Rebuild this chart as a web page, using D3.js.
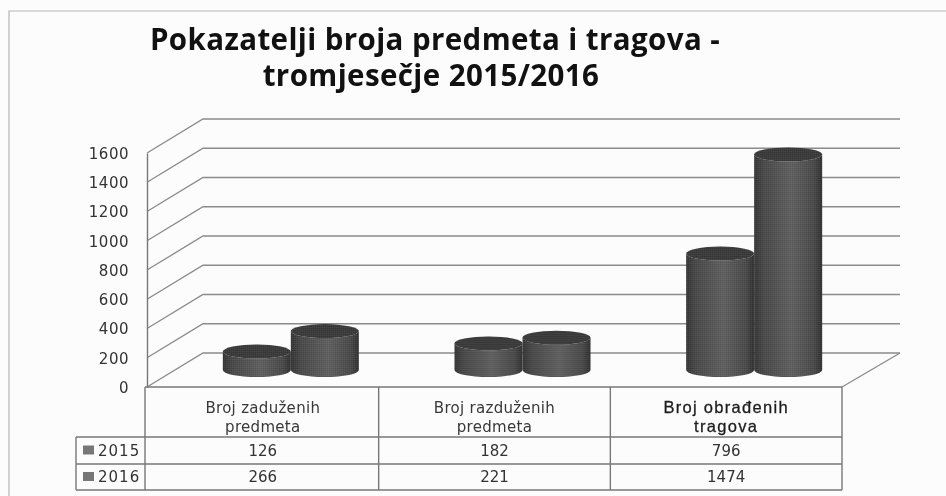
<!DOCTYPE html>
<html>
<head>
<meta charset="utf-8">
<script src="https://cdn.jsdelivr.net/npm/d3@7"></script>
<style>
  html, body { margin: 0; padding: 0; background: #fcfcfc; }
  svg { display: block; filter: blur(0.35px); }
  .num { font-family: "DejaVu Sans", sans-serif; font-size: 15px; fill: #333; }
  .grid { stroke: #8a8a8a; stroke-width: 1.3; fill: none; }
  .cell { stroke: #777; stroke-width: 1.4; fill: none; }
</style>
</head>
<body>
<svg id="chart" width="946" height="496"></svg>
<script>
const categories = [["Broj zaduženih", "predmeta"], ["Broj razduženih", "predmeta"], ["Broj obrađenih", "tragova"]];
const years = ["2015", "2016"];
const values2015 = [126, 182, 796];
const values2016 = [266, 221, 1474];
const yTicks = [0, 200, 400, 600, 800, 1000, 1200, 1400, 1600];
const titleLines = ["Pokazatelji broja predmeta i tragova -", "tromjesečje 2015/2016"];

const svg = d3.select("#chart");
const plotLeft = 147, plotRight = 842, plotTop = 153, plotBottom = 387;
// how far the back wall sits behind the front plane
const depthX = 56, depthY = 34;

const y = d3.scaleLinear().domain([0, 1600]).range([plotBottom, plotTop]);
const x = d3.scaleBand().domain([0, 1, 2]).range([plotLeft, plotRight]);
const xYear = d3.scaleBand().domain(years).range([-68, 68]);

// gradient + halftone for the cylinders
const defs = svg.append("defs");
const grad = defs.append("linearGradient").attr("id", "body");
[[0, "#383838"], [0.15, "#4c4c4c"], [0.55, "#626262"], [0.88, "#4c4c4c"], [1, "#333"]].forEach(s => {
  grad.append("stop").attr("offset", s[0]).attr("stop-color", s[1]);
});
const dots = defs.append("pattern").attr("id", "dots")
  .attr("width", 2).attr("height", 2).attr("patternUnits", "userSpaceOnUse");
dots.append("rect").attr("width", 1).attr("height", 1).attr("fill", "#000").attr("opacity", 0.15);
dots.append("rect").attr("x", 1).attr("y", 1).attr("width", 1).attr("height", 1).attr("fill", "#fff").attr("opacity", 0.05);

// outer frame, runs off the right and bottom edge
svg.append("path").attr("d", "M946,11H9V496").attr("fill", "none").attr("stroke", "#b5b5b5").attr("stroke-width", 1.2);

// title
svg.append("g").selectAll("text").data(titleLines).join("text")
  .attr("x", (d, i) => i ? 431 : 435)
  .attr("y", (d, i) => i ? 86 : 50)
  .attr("text-anchor", "middle")
  .attr("font-family", "Open Sans, sans-serif")
  .attr("font-weight", 700)
  .attr("font-size", 29.5)
  .attr("letter-spacing", 0.4)
  .attr("fill", "#111")
  .text(d => d);

// walls: diagonal from the front plane, then along the back wall
svg.append("g").selectAll("path").data(yTicks).join("path")
  .attr("class", "grid")
  .attr("d", d => `M${plotLeft},${y(d)}L${plotLeft + depthX},${y(d) - depthY}H${plotRight + depthX + 2}`);
svg.append("path").attr("class", "grid")
  .attr("d", `M${plotRight},${plotBottom}L${plotRight + depthX + 2},${plotBottom - depthY}`);

// y axis
const yAxis = svg.append("g").attr("transform", `translate(${plotLeft},0)`)
  .call(d3.axisLeft(y).tickValues(yTicks).tickFormat(d3.format("d")).tickSize(0).tickPadding(18));
yAxis.select(".domain").attr("stroke", "#777").attr("stroke-width", 1.4);
yAxis.selectAll("text").attr("class", "num").attr("letter-spacing", 0.5).attr("dy", "0.36em");

// cylinders
const rx = xYear.bandwidth() / 2, ry = 7;
const floorY = v => y(v) - depthY / 2;
const series = [values2015, values2016];
series.forEach((vals, s) => {
  const g = svg.append("g").selectAll("g").data(vals).join("g")
    .attr("transform", (d, i) => `translate(${x(i) + x.bandwidth() / 2 + depthX / 2 + xYear(years[s]) + rx},0)`);
  const bodyPath = d => `M${-rx},${floorY(d)}V${floorY(0)}A${rx},${ry} 0 0 0 ${rx},${floorY(0)}V${floorY(d)}A${rx},${ry} 0 0 1 ${-rx},${floorY(d)}Z`;
  g.append("path").attr("d", bodyPath).attr("fill", "url(#body)");
  g.append("path").attr("d", bodyPath).attr("fill", "url(#dots)");
  g.append("ellipse").attr("cy", d => floorY(d)).attr("rx", rx).attr("ry", ry).attr("fill", "#3c3c3c");
  g.append("ellipse").attr("cy", d => floorY(d)).attr("rx", rx).attr("ry", ry).attr("fill", "url(#dots)");
});

// data table
const rowY = [plotBottom + 50, plotBottom + 77, plotBottom + 103];
const legendLeft = 76, tableLeft = 145;
const table = svg.append("g");
table.append("path").attr("class", "cell").attr("d", `M${tableLeft},${plotBottom}H${plotRight}`);
table.selectAll(".rowline").data(rowY).join("path").attr("class", "cell rowline")
  .attr("d", d => `M${legendLeft},${d}H${plotRight}`);
table.selectAll(".colline").data(d3.range(1, 4)).join("path").attr("class", "cell colline")
  .attr("d", d => `M${x.step() * d + plotLeft},${plotBottom}V${rowY[2]}`);
table.append("path").attr("class", "cell").attr("d", `M${tableLeft},${plotBottom}V${rowY[2]}M${legendLeft},${rowY[0]}V${rowY[2]}`);

categories.forEach((lines, i) => {
  table.selectAll(".cat" + i).data(lines).join("text")
    .attr("class", "cat" + i)
    .attr("x", x(i) + x.bandwidth() / 2)
    .attr("y", (d, k) => plotBottom + 26 + k * 19)
    .attr("text-anchor", "middle")
    .attr("font-family", i === 2 ? "Liberation Sans, sans-serif" : "DejaVu Sans, sans-serif")
    .attr("font-size", i === 2 ? 16.5 : 15)
    .attr("letter-spacing", i === 2 ? 1.3 : 0.3)
    .attr("stroke", i === 2 ? "#222" : "none")
    .attr("stroke-width", i === 2 ? 0.3 : 0)
    .attr("fill", i === 2 ? "#1c1c1c" : "#383838")
    .text(d => d);
});

series.forEach((vals, s) => {
  const ty = (rowY[s] + rowY[s + 1]) / 2 + 5;
  table.append("rect").attr("x", 83).attr("y", ty - 10).attr("width", 11).attr("height", 9).attr("fill", "#777");
  table.append("text").attr("class", "num").attr("x", 98).attr("y", ty)
    .attr("letter-spacing", 1).text(years[s]);
  table.selectAll(".val" + s).data(vals).join("text")
    .attr("class", "num val" + s)
    .attr("x", (d, i) => x(i) + x.bandwidth() / 2)
    .attr("y", ty)
    .attr("text-anchor", "middle")
    .text(d => d);
});
</script>
</body>
</html>
